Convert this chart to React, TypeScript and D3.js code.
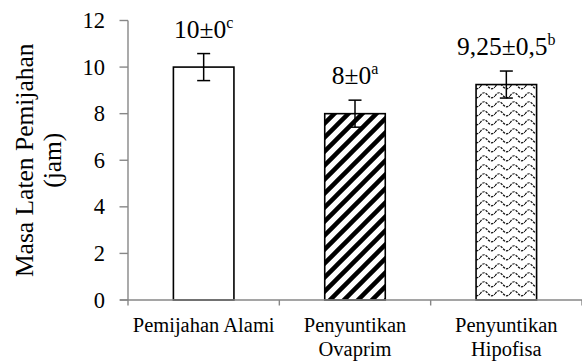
import React from "react";
import * as d3 from "d3";

const categories = ["Pemijahan Alami", "Penyuntikan Ovaprim", "Penyuntikan Hipofisa"];
const categoryLines = [["Pemijahan Alami"], ["Penyuntikan", "Ovaprim"], ["Penyuntikan", "Hipofisa"]];
const means = [10, 8, 9.25];
const errors = [0.58, 0.58, 0.58];
const labelMain = ["10±0", "8±0", "9,25±0,5"];
const labelSup = ["c", "a", "b"];
const fills = ["white", "url(#stripes)", "url(#waves)"];
const yTicks = [0, 2, 4, 6, 8, 10, 12];
const yTitle = ["Masa Laten Pemijahan", "(jam)"];

const W = 582;
const H = 362;
const FONT = "Liberation Serif";
const AXIS = "#878787";
const tStyle = { fontFamily: FONT } as React.CSSProperties;

export default function App() {
  const x = d3.scaleBand<string>().domain(categories).range([128, 582]).paddingInner(0.6).paddingOuter(0.3);
  const y = d3.scaleLinear().domain([0, 12]).range([300, 20.5]);
  const step = x.step();
  const bounds = d3.range(categories.length + 1).map((i) => 128 + i * step);

  return (
    <svg width={W} height={H} style={{ position: "absolute", left: 0, top: 0, background: "white", fontFamily: FONT }}>
      <defs>
        <pattern id="stripes" patternUnits="userSpaceOnUse" width="14" height="14">
          <rect width="14" height="14" fill="white" />
          <path d="M-3.5,3.5 L3.5,-3.5 M0,14 L14,0 M10.5,17.5 L17.5,10.5" stroke="black" strokeWidth="4.5" />
        </pattern>
        <pattern id="waves" patternUnits="userSpaceOnUse" width="15" height="9">
          <rect width="15" height="9" fill="white" />
          <path d="M0,6 Q3.75,0 7.5,5 T15,6" stroke="#111" strokeWidth="1.2" fill="none" strokeDasharray="2.5,1" />
        </pattern>
      </defs>

      {/* y axis */}
      <line x1={128} x2={128} y1={y(12)} y2={y(0)} stroke={AXIS} strokeWidth={1.4} />
      {yTicks.map((t) => (
        <g key={t}>
          <line x1={119.5} x2={128} y1={y(t)} y2={y(t)} stroke={AXIS} strokeWidth={1.4} />
          <text x={105} y={y(t) + 7.5} textAnchor="end" fontSize={22.5} fill="#000" style={tStyle}>
            {t}
          </text>
        </g>
      ))}

      {/* bars */}
      {categories.map((c, i) => {
        const bx = x(c)!;
        const bw = x.bandwidth();
        const cx = bx + bw / 2;
        const top = y(means[i] + errors[i]);
        const bot = y(means[i] - errors[i]);
        return (
          <g key={c}>
            <rect x={bx} y={y(means[i])} width={bw} height={y(0) - y(means[i])} fill={fills[i]} stroke="black" strokeWidth={1.6} />
            <line x1={cx} x2={cx} y1={top} y2={bot} stroke="black" strokeWidth={1.5} />
            <line x1={cx - 6.5} x2={cx + 6.5} y1={top} y2={top} stroke="black" strokeWidth={1.5} />
            <line x1={cx - 6.5} x2={cx + 6.5} y1={bot} y2={bot} stroke="black" strokeWidth={1.5} />
            <text x={cx} y={top - 16} textAnchor="middle" fontSize={25.5} fill="#000" style={tStyle}>
              {labelMain[i]}
              <tspan fontSize={16} dy={-10}>{labelSup[i]}</tspan>
            </text>
          </g>
        );
      })}

      {/* x axis */}
      <line x1={120} x2={582} y1={300} y2={300} stroke={AXIS} strokeWidth={1.4} />
      {bounds.map((b, i) => (
        <line key={i} x1={b} x2={b} y1={300} y2={305.5} stroke={AXIS} strokeWidth={1.4} />
      ))}
      {categories.map((c, i) => (
        <text key={c} textAnchor="middle" fontSize={20.5} fill="#000" style={tStyle}>
          {categoryLines[i].map((ln, j) => (
            <tspan key={j} x={x(c)! + x.bandwidth() / 2} y={332 + j * 24}>
              {ln}
            </tspan>
          ))}
        </text>
      ))}

      {/* y title */}
      <g transform={`translate(0, ${(y(0) + y(12)) / 2}) rotate(-90)`}>
        <text x={0} y={33} textAnchor="middle" fontSize={25.5} fill="#000" style={tStyle}>{yTitle[0]}</text>
        <text x={0} y={61} textAnchor="middle" fontSize={25.5} fill="#000" style={tStyle}>{yTitle[1]}</text>
      </g>
    </svg>
  );
}
